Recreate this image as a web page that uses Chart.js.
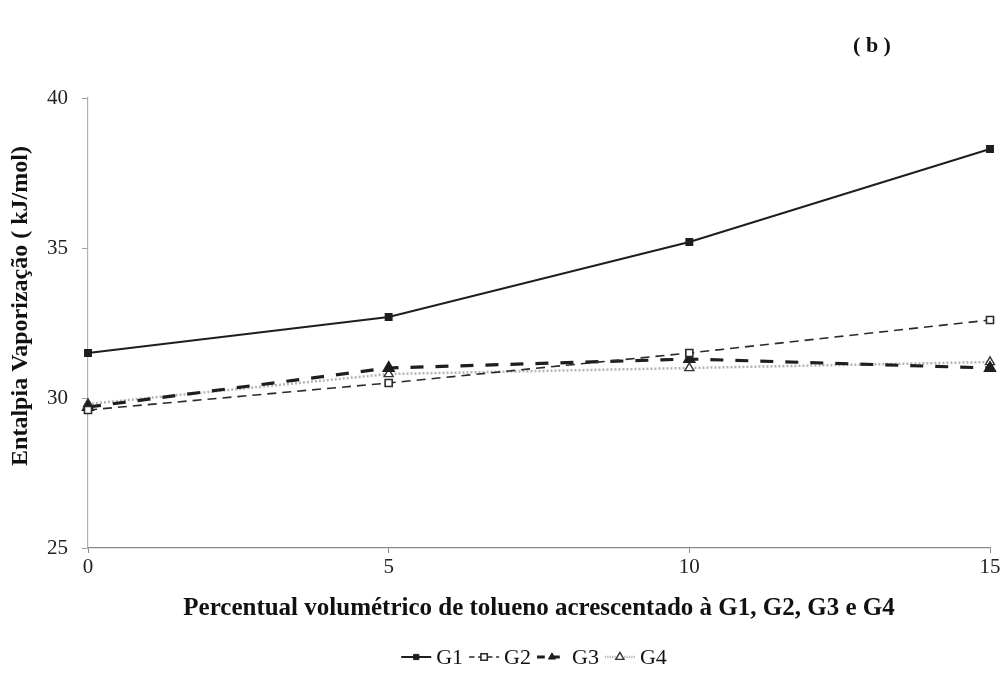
<!DOCTYPE html>
<html>
<head>
<meta charset="utf-8">
<script src="https://cdn.jsdelivr.net/npm/chart.js@4/dist/chart.umd.min.js"></script>
<style>
  html, body { margin: 0; padding: 0; background: #fff; }
  #wrap { width: 1007px; height: 690px; }
</style>
</head>
<body>
<div id="wrap"><canvas id="chart" width="1007" height="690"></canvas></div>
<script>
// ---------- DATA ----------
const toluenePct = [0, 5, 10, 15];
const g1 = [31.5, 32.7, 35.2, 38.3];
const g2 = [29.6, 30.5, 31.5, 32.6];
const g3 = [29.7, 31.0, 31.3, 31.0];
const g4 = [29.8, 30.8, 31.0, 31.2];
const yTicks = [25, 30, 35, 40];
const seriesNames = ["G1", "G2", "G3", "G4"];

const serif = "'Liberation Serif', 'Times New Roman', serif";

function pts(values) {
  return values.map((v, i) => ({ x: toluenePct[i], y: v }));
}

const datasets = [
  {
    label: seriesNames[0], data: pts(g1), clip: false,
    borderColor: "#1e1e1e", borderWidth: 2,
    pointStyle: "rect", pointRadius: 4.2,
    pointBackgroundColor: "#1e1e1e", pointBorderColor: "#1e1e1e"
  },
  {
    label: seriesNames[1], data: pts(g2), clip: false,
    borderColor: "#2a2a2a", borderWidth: 1.6, borderDash: [9, 6],
    pointStyle: "rect", pointRadius: 5,
    pointBackgroundColor: "#fff", pointBorderColor: "#2a2a2a", pointBorderWidth: 1.6
  },
  {
    label: seriesNames[2], data: pts(g3), clip: false,
    borderColor: "#1e1e1e", borderWidth: 3.2, borderDash: [13, 12],
    pointStyle: "triangle", pointRadius: 4.6,
    pointBackgroundColor: "#1e1e1e", pointBorderColor: "#1e1e1e"
  },
  {
    label: seriesNames[3], data: pts(g4), clip: false,
    borderColor: "#b4b4b4", borderWidth: 2.5, borderDash: [2, 2],
    pointStyle: "triangle", pointRadius: 5.2,
    pointBackgroundColor: "#fff", pointBorderColor: "#333", pointBorderWidth: 1.4
  }
];

// panel letter and the y axis caption (sits a bit above the plot centre)
const extraText = {
  id: "extraText",
  afterDraw(chart) {
    const ctx = chart.ctx;
    ctx.save();
    ctx.font = "bold 22px " + serif;
    ctx.fillStyle = "#111";
    ctx.textAlign = "center";
    ctx.textBaseline = "middle";
    ctx.fillText("( b )", 872, 46);

    ctx.translate(21, 306);
    ctx.rotate(-Math.PI / 2);
    ctx.font = "bold 24px " + serif;
    ctx.fillText("Entalpia Vaporização ( kJ/mol)", 0, 0);
    ctx.restore();
  }
};

// legend row: line sample with marker, then series name
const lineLegend = {
  id: "lineLegend",
  afterDraw(chart) {
    const ctx = chart.ctx;
    const y = 657;
    const sampleW = 30;
    ctx.save();
    ctx.font = "22px " + serif;
    ctx.textBaseline = "middle";
    const widths = chart.data.datasets.map(ds => ctx.measureText(ds.label).width);
    let total = 0;
    widths.forEach(w => { total += sampleW + 5 + w + 6; });
    let x = 537 - total / 2;
    chart.data.datasets.forEach((ds, i) => {
      ctx.save();
      ctx.strokeStyle = ds.borderColor;
      ctx.lineWidth = ds.borderWidth;
      ctx.setLineDash(ds.borderDash ? ds.borderDash.map(d => d * 0.6) : []);
      ctx.beginPath();
      ctx.moveTo(x, y);
      ctx.lineTo(x + sampleW, y);
      ctx.stroke();
      ctx.restore();
      ctx.fillStyle = ds.pointBackgroundColor;
      ctx.strokeStyle = ds.pointBorderColor;
      ctx.lineWidth = ds.pointBorderWidth || 1;
      ctx.setLineDash([]);
      Chart.helpers.drawPoint(ctx, {
        pointStyle: ds.pointStyle,
        radius: ds.pointRadius - 0.5,
        borderWidth: ds.pointBorderWidth || 1
      }, x + sampleW / 2, y);
      ctx.fillStyle = "#111";
      ctx.fillText(ds.label, x + sampleW + 5, y + 1);
      x += sampleW + 5 + widths[i] + 6;
    });
    ctx.restore();
  }
};

new Chart(document.getElementById("chart"), {
  type: "line",
  data: { datasets },
  options: {
    responsive: false,
    animation: false,
    layout: { padding: { left: 0, right: 17, top: 98, bottom: 62 } },
    plugins: { legend: { display: false }, tooltip: { enabled: false } },
    scales: {
      x: {
        type: "linear", min: 0, max: 15,
        afterBuildTicks: s => { s.ticks = toluenePct.map(v => ({ value: v })); },
        afterFit: s => { s.height = 80; },
        border: { color: "#8a8a8a", width: 1.2 },
        grid: { drawOnChartArea: false, drawTicks: true, tickLength: 5, color: "#8a8a8a" },
        ticks: { color: "#222", font: { family: serif, size: 21 }, padding: 2 },
        title: {
          display: true, text: "Percentual volumétrico de tolueno acrescentado à G1, G2, G3 e G4",
          color: "#111", font: { family: serif, size: 25, weight: "bold" },
          padding: { top: 4, bottom: 4 }
        }
      },
      y: {
        min: 25, max: 40,
        afterBuildTicks: s => { s.ticks = yTicks.map(v => ({ value: v })); },
        afterFit: s => { s.width = 88; },
        border: { color: "#b0b0b0", width: 1.2 },
        grid: { drawOnChartArea: false, drawTicks: true, tickLength: 6, color: "#a0a0a0" },
        ticks: { color: "#222", font: { family: serif, size: 21 }, padding: 14 }
      }
    }
  },
  plugins: [extraText, lineLegend]
});
</script>
</body>
</html>
